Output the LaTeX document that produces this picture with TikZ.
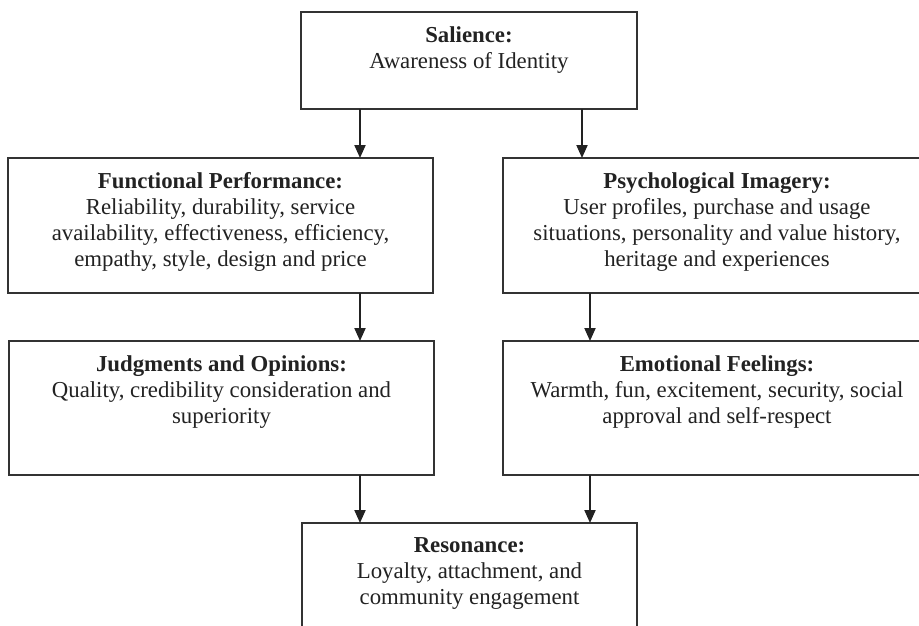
\documentclass[tikz,border=0pt]{standalone}
\usepackage{fontspec}
\setmainfont{Liberation Serif}
\usetikzlibrary{arrows.meta}
\definecolor{ink}{HTML}{222222}
\definecolor{rule}{HTML}{333333}
\begin{document}
\begin{tikzpicture}[x=1pt,y=-1pt,
  box/.style={draw=rule, line width=1.3pt, anchor=north west, inner sep=0pt, outer sep=0pt},
  boxtext/.style={anchor=north, align=center, inner sep=0pt, text=ink,
    font=\fontsize{22.8}{26}\selectfont, yshift=-14.5pt},
  flow/.style={draw=ink, line width=2pt, -{Triangle[length=13pt,width=11pt]}}]
\useasboundingbox (0,0) rectangle (919,625);
\clip (0,0) rectangle (919,625);
\fill[white] (0,0) rectangle (919,625);

% boxes
\node[box, minimum width=336pt, minimum height=97pt]  (sal)   at (301,12)  {};
\node[box, minimum width=425pt, minimum height=135pt] (func)  at (8,158)   {};
\node[box, minimum width=428pt, minimum height=135pt] (psych) at (503,158) {};
\node[box, minimum width=425pt, minimum height=134pt] (judg)  at (9,341)   {};
\node[box, minimum width=428pt, minimum height=134pt] (emo)   at (503,341) {};
\node[box, minimum width=335pt, minimum height=140pt] (res)   at (302,523) {};

% texts
\node[boxtext] (sal-t) at (sal.north)
  {\textbf{Salience:}\\Awareness of Identity};
\node[boxtext] (func-t) at (func.north)
  {\textbf{Functional Performance:}\\Reliability, durability, service\\availability, effectiveness, efficiency,\\empathy, style, design and price};
\node[boxtext] (psych-t) at (psych.north)
  {\textbf{Psychological Imagery:}\\User profiles, purchase and usage\\situations, personality and value history,\\heritage and experiences};
\node[boxtext] (judg-t) at (judg.north)
  {\textbf{Judgments and Opinions:}\\Quality, credibility consideration and\\superiority};
\node[boxtext] (emo-t) at (emo.north)
  {\textbf{Emotional Feelings:}\\Warmth, fun, excitement, security, social\\approval and self-respect};
\node[boxtext] (res-t) at (res.north)
  {\textbf{Resonance:}\\Loyalty, attachment, and\\community engagement};

% connector start points
\coordinate (s1) at ([xshift=59pt]sal.south west);
\coordinate (s2) at ([xshift=281pt]sal.south west);
\coordinate (f1) at ([xshift=352pt]func.south west);
\coordinate (p1) at ([xshift=87pt]psych.south west);
\coordinate (j1) at ([xshift=351pt]judg.south west);
\coordinate (e1) at ([xshift=87pt]emo.south west);

\draw[flow] (s1) -- (s1 |- func.north);
\draw[flow] (s2) -- (s2 |- psych.north);
\draw[flow] (f1) -- (f1 |- judg.north);
\draw[flow] (p1) -- (p1 |- emo.north);
\draw[flow] (j1) -- (j1 |- res.north);
\draw[flow] (e1) -- (e1 |- res.north);
\end{tikzpicture}
\end{document}
